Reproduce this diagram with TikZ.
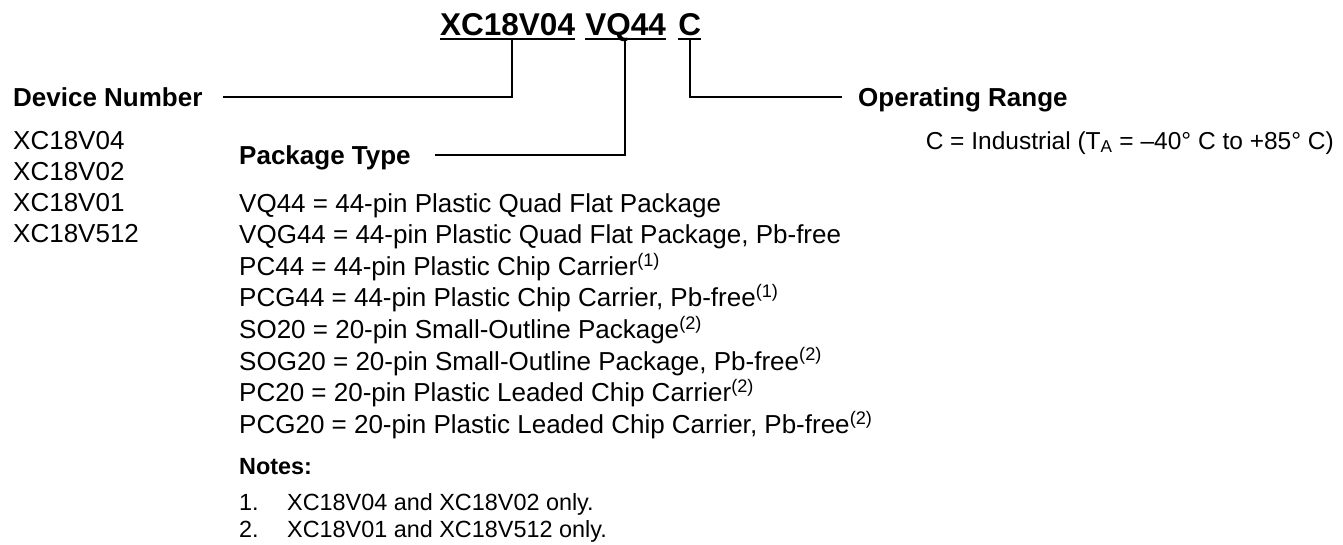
\documentclass[tikz,border=0pt]{standalone}
\usepackage{fontspec}
\setmainfont{Liberation Sans}
\begin{document}
\begin{tikzpicture}[x=1pt,y=1pt,
        parte/.style={font=\fontsize{31.5}{36}\selectfont\bfseries,inner sep=0pt,anchor=base west},
        titulo/.style={font=\fontsize{26}{31}\selectfont\bfseries,inner sep=0pt,anchor=base west},
        texto/.style={font=\fontsize{26}{31}\selectfont,inner sep=0pt,anchor=base west},
        nota/.style={font=\fontsize{23.4}{28}\selectfont,inner sep=0pt,anchor=base west},
        linea/.style={line width=2pt}]
        \useasboundingbox (0,0) rectangle (1343,-544);

        % numero de parte
        \node[parte] (xcnum) at (440,-35) {XC18V04};
        \node[parte] (vqpkg) at ([xshift=10pt]xcnum.base east) {VQ44};
        \node[parte] (crango) at ([xshift=12pt]vqpkg.base east) {C};
        \foreach \p in {xcnum,vqpkg,crango}
        \draw[line width=2.5pt] ([yshift=-4pt]\p.base west) -- ([yshift=-4pt]\p.base east);

        % titulos
        \node[titulo] (devnum) at (13,-106) {Device Number};
        \node[titulo] (pkgtipo) at (239,-164) {Package Type};
        \node[titulo] (oprango) at (858,-106) {Operating Range};

        % lineas
        \draw[linea] ([xshift=4pt,yshift=-4pt]xcnum.base) |- ([xshift=20pt,yshift=9pt]devnum.base east);
        \draw[linea] ([xshift=-1pt,yshift=-4pt]vqpkg.base) |- ([xshift=24pt,yshift=9pt]pkgtipo.base east);
        \draw[linea] ([yshift=-4pt]crango.base) |- ([xshift=-16pt,yshift=9pt]oprango.base west);

        % dispositivos
        \foreach \t [count=\i from 0] in {XC18V04,XC18V02,XC18V01,XC18V512}
        \node[texto] (dev\i) at (13,{-149-31.2*\i}) {\t};

        % rango
        \node[texto,font=\fontsize{24.5}{30}\selectfont,anchor=base east] (indus) at (1334,-149)
            {C = Industrial (T\textsubscript{A} = –40° C to +85° C)};

        % encapsulados
        \foreach \t [count=\i from 0] in {
            {VQ44 = 44-pin Plastic Quad Flat Package},
            {VQG44 = 44-pin Plastic Quad Flat Package, Pb-free},
            {PC44 = 44-pin Plastic Chip Carrier\textsuperscript{(1)}},
            {PCG44 = 44-pin Plastic Chip Carrier, Pb-free\textsuperscript{(1)}},
            {SO20 = 20-pin Small-Outline Package\textsuperscript{(2)}},
            {SOG20 = 20-pin Small-Outline Package, Pb-free\textsuperscript{(2)}},
            {PC20 = 20-pin Plastic Leaded Chip Carrier\textsuperscript{(2)}},
            {PCG20 = 20-pin Plastic Leaded Chip Carrier, Pb-free\textsuperscript{(2)}}}
        \node[texto] (pkg\i) at (239,{-212-31.6*\i}) {\t};

        % notas
        \node[nota,font=\fontsize{23.4}{28}\selectfont\bfseries] (notas) at (239,-474) {Notes:};
        \foreach \n/\t [count=\i] in {1./XC18V04 and XC18V02 only.,2./XC18V01 and XC18V512 only.}
        {
            \node[nota] (nnum\i) at (239,{-510-27*(\i-1)}) {\n};
            \node[nota] (ntxt\i) at (287,{-510-27*(\i-1)}) {\t};
        }
\end{tikzpicture}
\end{document}
